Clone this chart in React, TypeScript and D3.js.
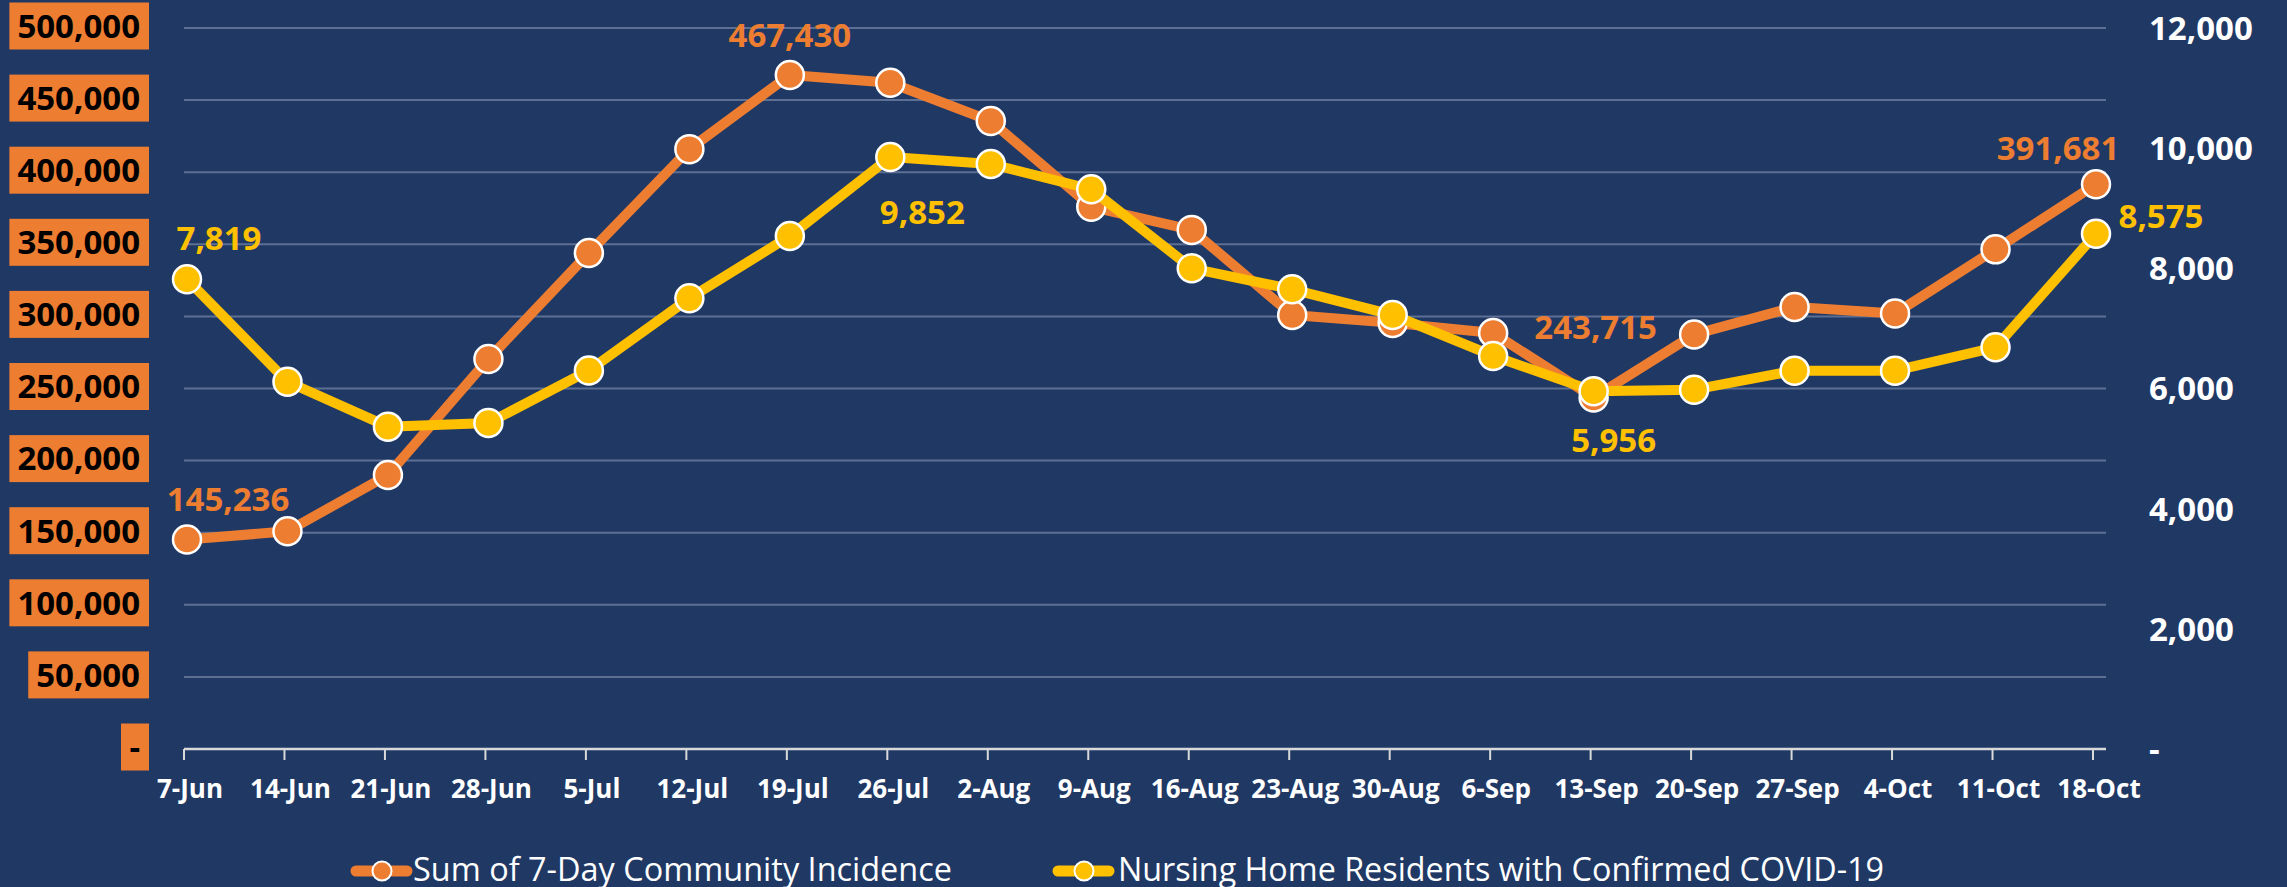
import React, { useEffect, useRef } from "react";
import * as d3 from "d3";

const categories = ["7-Jun","14-Jun","21-Jun","28-Jun","5-Jul","12-Jul","19-Jul","26-Jul","2-Aug","9-Aug","16-Aug","23-Aug","30-Aug","6-Sep","13-Sep","20-Sep","27-Sep","4-Oct","11-Oct","18-Oct"];
const communityIncidence = [145236,151000,190000,270500,344000,416000,467430,462000,435500,376000,360000,301000,295500,288500,243715,287500,306500,302000,346500,391681];
const nursingHome = [7819,6113,5365,5426,6300,7501,8538,9852,9737,9316,8001,7651,7224,6541,5956,5980,6297,6297,6686,8575];
const leftTicks = [0,50000,100000,150000,200000,250000,300000,350000,400000,450000,500000];
const rightTicks = [0,2000,4000,6000,8000,10000,12000];
const seriesNames = ["Sum of 7-Day Community Incidence","Nursing Home Residents with Confirmed COVID-19"];

// label annotations: index of point, offset (dx,dy) of label center/baseline from point
const orangeLabels = [
  { i: 0, dx: 41, dy: -29 },
  { i: 6, dx: 0, dy: -28 },
  { i: 14, dx: 2, dy: -59 },
  { i: 19, dx: -38, dy: -24 },
];
const yellowLabels = [
  { i: 0, dx: 32, dy: -29 },
  { i: 7, dx: 32, dy: 67 },
  { i: 14, dx: 20, dy: 61 },
  { i: 19, dx: 65, dy: -6 },
];

const W = 2287, H = 887;
const BG = "#203864";
const ORANGE = "#ED7D31";
const YELLOW = "#FFC000";
const FONT = "'Open Sans', 'Noto Sans', sans-serif";

export default function App() {
  const ref = useRef<SVGSVGElement>(null);
  useEffect(() => {
    const svg = d3.select(ref.current);
    svg.selectAll("*").remove();
    const top = 28, bottom = 749, left = 184, right = 2106;
    const x = d3.scalePoint<string>().domain(categories).range([187, 2096]);
    const yL = d3.scaleLinear().domain([0, 500000]).range([bottom, top]);
    const yR = d3.scaleLinear().domain([0, 12000]).range([bottom, top]);
    const fmt = d3.format(",");

    svg.append("rect").attr("width", W).attr("height", H).attr("fill", BG);

    // gridlines
    svg.append("g").selectAll("line").data(leftTicks.filter(t => t > 0)).join("line")
      .attr("x1", left).attr("x2", right)
      .attr("y1", d => yL(d)).attr("y2", d => yL(d))
      .attr("stroke", "#5d6f93").attr("stroke-width", 2);

    // x axis
    svg.append("line").attr("x1", left).attr("x2", right).attr("y1", bottom).attr("y2", bottom)
      .attr("stroke", "#d9d9d9").attr("stroke-width", 2.5);
    svg.append("g").selectAll("line").data(categories).join("line")
      .attr("x1", d => (x(d) as number) - 3).attr("x2", d => (x(d) as number) - 3)
      .attr("y1", bottom).attr("y2", bottom + 11)
      .attr("stroke", "#d9d9d9").attr("stroke-width", 2);
    svg.append("g").selectAll("text").data(categories).join("text")
      .attr("x", d => (x(d) as number) + 3).attr("y", 798)
      .attr("text-anchor", "middle").attr("font-family", FONT).attr("font-weight", 700)
      .attr("font-size", 26).attr("fill", "#ffffff").text(d => d);

    // left axis labels in orange boxes
    const lg = svg.append("g");
    leftTicks.forEach(t => {
      const cy = yL(t) - 2;
      const txt = lg.append("text").attr("x", 140).attr("y", cy).attr("dy", "0.36em")
        .attr("text-anchor", "end").attr("font-family", FONT).attr("font-weight", 700)
        .attr("font-size", 33).attr("fill", "#000000").text(t === 0 ? "-" : fmt(t));
      const w = (txt.node() as SVGTextElement).getComputedTextLength();
      const bx = 140 - w - 8;
      lg.insert("rect", "text").attr("x", t === 0 ? 121 : bx).attr("y", cy - 23.5)
        .attr("width", t === 0 ? 28 : 149 - bx).attr("height", 47).attr("fill", ORANGE);
    });

    // right axis labels
    svg.append("g").selectAll("text").data(rightTicks).join("text")
      .attr("x", 2149).attr("y", d => yR(d)).attr("dy", "0.36em")
      .attr("font-family", FONT).attr("font-weight", 700).attr("font-size", 33)
      .attr("fill", "#ffffff").text(d => (d === 0 ? "-" : fmt(d)));

    const drawSeries = (vals: number[], yS: d3.ScaleLinear<number, number>, color: string) => {
      const g = svg.append("g");
      const line = d3.line<number>().x((_, i) => x(categories[i]) as number).y(d => yS(d));
      g.append("path").attr("d", line(vals)).attr("fill", "none").attr("stroke", color)
        .attr("stroke-width", 10).attr("stroke-linejoin", "round");
      g.selectAll("circle").data(vals).join("circle")
        .attr("cx", (_, i) => x(categories[i]) as number).attr("cy", d => yS(d))
        .attr("r", 14).attr("fill", color).attr("stroke", "#ffffff").attr("stroke-width", 2.5);
    };
    drawSeries(communityIncidence, yL, ORANGE);
    drawSeries(nursingHome, yR, YELLOW);

    const labelG = svg.append("g");
    orangeLabels.forEach(l => {
      labelG.append("text").attr("x", (x(categories[l.i]) as number) + l.dx)
        .attr("y", yL(communityIncidence[l.i]) + l.dy).attr("text-anchor", "middle")
        .attr("font-family", FONT).attr("font-weight", 700).attr("font-size", 33)
        .attr("fill", ORANGE).text(fmt(communityIncidence[l.i]));
    });
    yellowLabels.forEach(l => {
      labelG.append("text").attr("x", (x(categories[l.i]) as number) + l.dx)
        .attr("y", yR(nursingHome[l.i]) + l.dy).attr("text-anchor", "middle")
        .attr("font-family", FONT).attr("font-weight", 700).attr("font-size", 33)
        .attr("fill", YELLOW).text(fmt(nursingHome[l.i]));
    });

    // legend
    const legendItems = [
      { name: seriesNames[0], color: ORANGE, x0: 351, tx: 413, len: 539 },
      { name: seriesNames[1], color: YELLOW, x0: 1053, tx: 1118, len: 766 },
    ];
    const leg = svg.append("g");
    legendItems.forEach(it => {
      leg.append("line").attr("x1", it.x0 + 5).attr("x2", it.x0 + 56).attr("y1", 871).attr("y2", 871)
        .attr("stroke", it.color).attr("stroke-width", 11).attr("stroke-linecap", "round");
      leg.append("circle").attr("cx", it.x0 + 31).attr("cy", 871).attr("r", 9.5)
        .attr("fill", it.color).attr("stroke", "#ffffff").attr("stroke-width", 2);
      leg.append("text").attr("x", it.tx).attr("y", 881).attr("font-family", FONT)
        .attr("font-size", 32).attr("fill", "#ffffff")
        .attr("textLength", it.len).attr("lengthAdjust", "spacingAndGlyphs").text(it.name);
    });
  }, []);
  return (
    <svg ref={ref} width={W} height={H}
      style={{ position: "absolute", left: 0, top: 0, display: "block" }} />
  );
}
